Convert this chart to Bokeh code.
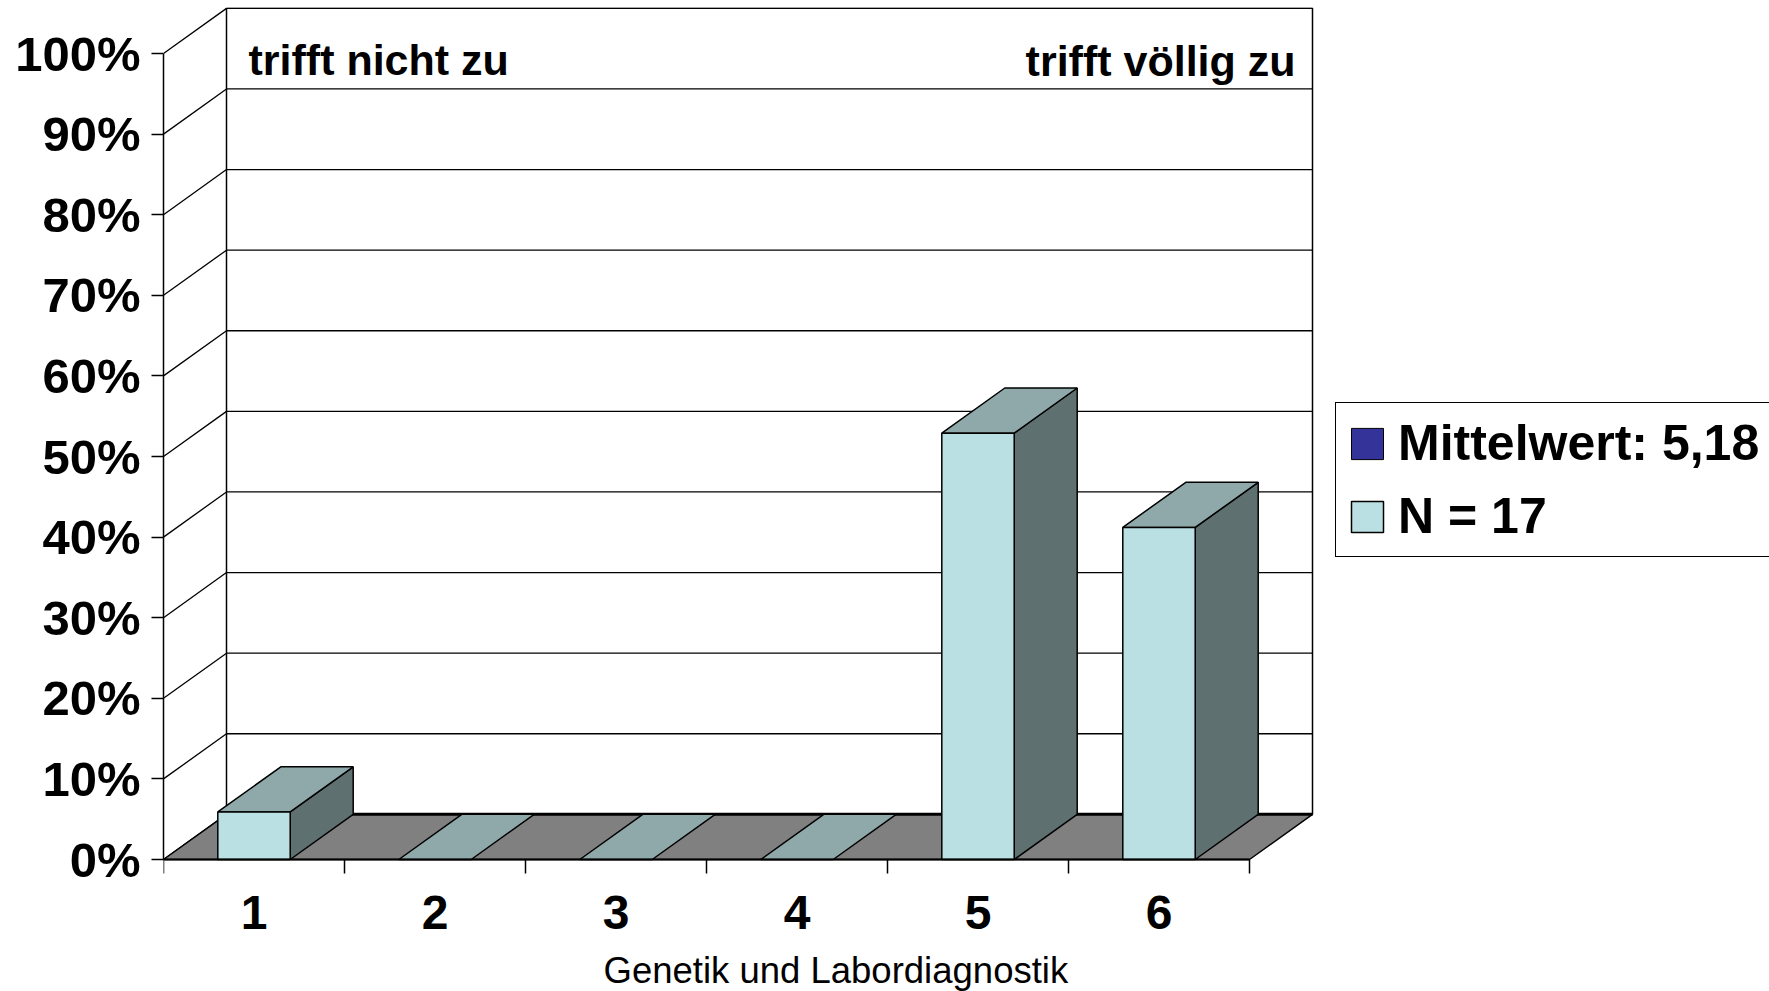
from bokeh.plotting import figure
from bokeh.models import Range1d, FixedTicker, PrintfTickFormatter, Legend, LegendItem, Label
from bokeh.embed import file_html
from bokeh.resources import INLINE

# ---- data ----
categories = ["1", "2", "3", "4", "5", "6"]
percent = [5.9, 0.0, 0.0, 0.0, 52.9, 41.2]
y_ticks = [0, 10, 20, 30, 40, 50, 60, 70, 80, 90, 100]
legend_mean = "Mittelwert: 5,18"
legend_n = "N = 17"
label_left = "trifft nicht zu"
label_right = "trifft völlig zu"
x_title = "Genetik und Labordiagnostik"

# ---- styling / geometry ----
FONT = "Liberation Sans"
C_FRONT = "#BBE0E3"
C_TOP = "#8FA9AB"
C_SIDE = "#5F7071"
C_FLOOR = "#808080"
C_MEAN = "#333399"
PX_X = 181.0
PX_Y = 8.06
DX = 63.0 / PX_X
DY = 5.6
BAR_W = 0.4
LEFT, TOP = 163, 7
ZERO_Y = 859          # page y of the 0 % line
FRAME_W, FRAME_H = 1769 - LEFT, 991 - TOP

n = len(categories)
centers = [i + 0.5 for i in range(n)]

p = figure(frame_width=FRAME_W, frame_height=FRAME_H,
           x_range=Range1d(0, FRAME_W / PX_X),
           y_range=Range1d(-(991 - ZERO_Y) / PX_Y, (ZERO_Y - TOP) / PX_Y),
           output_backend="svg", toolbar_location=None,
           min_border_left=LEFT, min_border_top=TOP, min_border_right=0,
           min_border_bottom=0)
p.outline_line_color = None
p.xgrid.visible = False
p.ygrid.visible = False
p.background_fill_color = "white"

# back wall
p.quad(left=[DX], right=[n + DX], bottom=[DY], top=[100 + DY],
       fill_color="white", line_color="black", line_width=1.5)
# back wall gridlines
p.segment(x0=[DX] * len(y_ticks), y0=[t + DY for t in y_ticks],
          x1=[n + DX] * len(y_ticks), y1=[t + DY for t in y_ticks],
          line_color="black", line_width=1.3)
# side wall diagonals
p.segment(x0=[0] * len(y_ticks), y0=y_ticks, x1=[DX] * len(y_ticks),
          y1=[t + DY for t in y_ticks], line_color="black", line_width=1.3)
# floor
p.patch([0, n, n + DX, DX], [0, 0, DY, DY], fill_color=C_FLOOR,
        line_color="black", line_width=1.5)
p.segment(x0=[DX], y0=[DY], x1=[n + DX], y1=[DY], line_color="black", line_width=3)

# bars
x0s = [c - BAR_W / 2 for c in centers]
x1s = [c + BAR_W / 2 for c in centers]
top_xs = [[a, b, b + DX, a + DX] for a, b in zip(x0s, x1s)]
top_ys = [[v, v, v + DY, v + DY] for v in percent]
pos = [i for i, v in enumerate(percent) if v > 0]
side_xs = [[x1s[i], x1s[i] + DX, x1s[i] + DX, x1s[i]] for i in pos]
side_ys = [[0, DY, percent[i] + DY, percent[i]] for i in pos]
p.patches(side_xs, side_ys, fill_color=C_SIDE, line_color="black", line_width=1.5)
p.patches(top_xs, top_ys, fill_color=C_TOP, line_color="black", line_width=1.5)
r_front = p.quad(left=[x0s[i] for i in pos], right=[x1s[i] for i in pos],
                 bottom=[0] * len(pos), top=[percent[i] for i in pos],
                 fill_color=C_FRONT, line_color="black", line_width=1.5)
nan = float("nan")
r_mean = p.quad(left=[nan], right=[nan], bottom=[nan], top=[nan], fill_color=C_MEAN,
                line_color="black", line_width=1)

# y axis
ya = p.yaxis[0]
ya.ticker = FixedTicker(ticks=y_ticks)
ya.formatter = PrintfTickFormatter(format="%d%%")
ya.bounds = (0, 100)
ya.major_label_text_font = FONT
ya.major_label_text_font_size = "49px"
ya.major_label_text_font_style = "bold"
ya.major_label_text_color = "black"
ya.major_tick_out = 12
ya.major_tick_in = 0
ya.minor_tick_out = 0
ya.minor_tick_in = 0
ya.axis_line_width = 1.5
ya.axis_line_color = "black"
ya.major_tick_line_width = 1.5
ya.major_tick_line_color = "black"
ya.major_label_standoff = 11

# x axis (drawn at the 0 % line inside the frame)
xa = p.xaxis[0]
xa.fixed_location = 0
xa.ticker = FixedTicker(ticks=centers, minor_ticks=list(range(n + 1)))
xa.major_label_overrides = {c: lab for c, lab in zip(centers, categories)}
xa.bounds = (0, n)
xa.major_tick_out = 0
xa.major_tick_in = 0
xa.minor_tick_out = 14
xa.minor_tick_in = 0
xa.minor_tick_line_color = "black"
xa.minor_tick_line_width = 1.5
xa.axis_line_width = 2
xa.axis_line_color = "black"
xa.major_label_text_font = FONT
xa.major_label_text_font_size = "48px"
xa.major_label_text_font_style = "bold"
xa.major_label_text_color = "black"
xa.major_label_standoff = 22

# corner texts (screen units from the frame's bottom-left)
p.add_layout(Label(x=85, y=932, x_units="screen", y_units="screen", text=label_left,
                   text_font=FONT, text_font_size="43px", text_font_style="bold",
                   text_baseline="alphabetic", text_align="left", text_color="black"))
p.add_layout(Label(x=1132, y=931, x_units="screen", y_units="screen", text=label_right,
                   text_font=FONT, text_font_size="43px", text_font_style="bold",
                   text_baseline="alphabetic", text_align="right", text_color="black"))
# axis title
p.add_layout(Label(x=440, y=21, x_units="screen", y_units="screen", text=x_title,
                   text_font=FONT, text_font_size="36.5px", text_font_style="normal",
                   text_baseline="alphabetic", text_align="left", text_color="black"))

legend = Legend(items=[LegendItem(label=legend_mean, renderers=[r_mean]),
                       LegendItem(label=legend_n, renderers=[r_front])],
                location=(1172, 434), margin=0, padding=11, spacing=15,
                glyph_width=40, glyph_height=39, label_standoff=11, label_width=480,
                label_text_font=FONT, label_text_font_size="50px",
                label_text_font_style="bold", label_text_color="black",
                border_line_color="black", border_line_width=1.5, border_line_alpha=1.0,
                background_fill_color="white", background_fill_alpha=1.0)
p.add_layout(legend)

open("out.html", "w").write(file_html(p, INLINE))
